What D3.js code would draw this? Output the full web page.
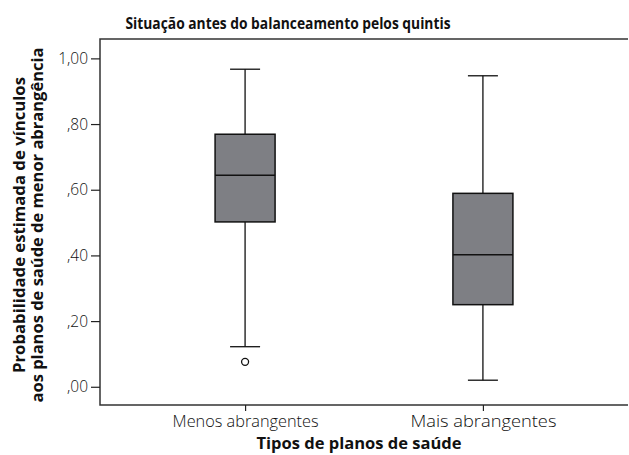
<!DOCTYPE html>
<html>
<head>
<meta charset="utf-8">
<script src="https://cdn.jsdelivr.net/npm/d3@7"></script>
<style>
  body { margin: 0; background: #fff; }
  svg text { font-family: "Open Sans", "Noto Sans", sans-serif; fill: #111; }
  .title, .axis-title { font-weight: 700; }
</style>
</head>
<body>
<svg id="chart" width="629" height="455"></svg>
<script>
// categories and five-number summaries
var categories = ['Menos abrangentes', 'Mais abrangentes'];
var whiskerLow  = [0.122, 0.020];
var q1          = [0.502, 0.250];
var median      = [0.644, 0.402];
var q3          = [0.769, 0.589];
var whiskerHigh = [0.967, 0.947];
var outliers    = [[0.076], []];
var yTicks = [0, 0.2, 0.4, 0.6, 0.8, 1.0];

var svg = d3.select('#chart');
var plot = { left: 100, right: 628, top: 39, bottom: 405 };

var x = d3.scalePoint()
  .domain(categories)
  .range([plot.left, plot.right])
  .padding(0.61);

var y = d3.scaleLinear()
  .domain([-0.0555, 1.059])
  .range([plot.bottom, plot.top]);

var fmt = function(d) {
  // SPSS style: ",80" / "1,00"
  var s = d3.format('.2f')(d).replace('.', ',');
  return s.charAt(0) === '0' ? s.slice(1) : s;
};

var boxW = 60, capW = 30;

var boxes = svg.append('g').attr('class', 'boxes');
categories.forEach(function(c, i) {
  var cx = x(c);
  var g = boxes.append('g');
  // whisker stems
  g.append('line')
    .attr('x1', cx).attr('x2', cx)
    .attr('y1', y(whiskerHigh[i])).attr('y2', y(q3[i]))
    .attr('stroke', '#111').attr('stroke-width', 1.3);
  g.append('line')
    .attr('x1', cx).attr('x2', cx)
    .attr('y1', y(q1[i])).attr('y2', y(whiskerLow[i]))
    .attr('stroke', '#111').attr('stroke-width', 1.3);
  // caps
  [whiskerHigh[i], whiskerLow[i]].forEach(function(v) {
    g.append('line')
      .attr('x1', cx - capW / 2).attr('x2', cx + capW / 2)
      .attr('y1', y(v)).attr('y2', y(v))
      .attr('stroke', '#111').attr('stroke-width', 1.3);
  });
  // box
  g.append('rect')
    .attr('x', cx - boxW / 2)
    .attr('y', y(q3[i]))
    .attr('width', boxW)
    .attr('height', y(q1[i]) - y(q3[i]))
    .attr('fill', '#7e7f84')
    .attr('stroke', '#111')
    .attr('stroke-width', 1.5);
  g.append('line')
    .attr('x1', cx - boxW / 2).attr('x2', cx + boxW / 2)
    .attr('y1', y(median[i])).attr('y2', y(median[i]))
    .attr('stroke', '#111').attr('stroke-width', 1.5);
  // outliers
  g.selectAll('circle').data(outliers[i]).enter().append('circle')
    .attr('cx', cx).attr('cy', function(d) { return y(d); })
    .attr('r', 3.5)
    .attr('fill', '#fff').attr('stroke', '#111').attr('stroke-width', 1.3);
});

// frame: top, left, bottom (no right side visible)
svg.append('path')
  .attr('stroke', '#333').attr('stroke-width', 1.5).attr('fill', 'none')
  .attr('d', 'M' + plot.right + ',' + plot.top + 'H' + plot.left +
             'V' + plot.bottom + 'H' + plot.right);

// y axis
var yAxis = svg.append('g')
  .attr('transform', 'translate(' + plot.left + ',0)')
  .call(d3.axisLeft(y).tickValues(yTicks).tickFormat(fmt).tickSize(9).tickPadding(3));
yAxis.select('.domain').remove();
yAxis.selectAll('line').attr('stroke', '#222').attr('stroke-width', 1.2);
yAxis.selectAll('text')
  .attr('font-size', 15.5).attr('fill', '#222')
  .style('font-family', '"Open Sans", "Noto Sans", sans-serif')
  .style('font-weight', 300);

// x axis
var xAxis = svg.append('g')
  .attr('transform', 'translate(0,' + plot.bottom + ')')
  .call(d3.axisBottom(x).tickSize(6));
xAxis.select('.domain').remove();
xAxis.selectAll('line').attr('stroke', '#222').attr('stroke-width', 1.2);
xAxis.selectAll('text')
  .attr('y', 21.5).attr('dy', 0)
  .attr('font-size', 16).attr('fill', '#222')
  .style('font-family', '"Open Sans", "Noto Sans", sans-serif')
  .style('font-weight', 300)
  .attr('textLength', 146).attr('lengthAdjust', 'spacingAndGlyphs');

// titles
svg.append('text').attr('class', 'title')
  .attr('x', 288).attr('y', 28.5)
  .attr('text-anchor', 'middle').attr('font-size', 16)
  .attr('textLength', 325).attr('lengthAdjust', 'spacingAndGlyphs')
  .text('Situação antes do balanceamento pelos quintis');

svg.append('text').attr('class', 'axis-title')
  .attr('x', 359).attr('y', 449)
  .attr('text-anchor', 'middle').attr('font-size', 16)
  .attr('textLength', 205).attr('lengthAdjust', 'spacingAndGlyphs')
  .text('Tipos de planos de saúde');

var yTitle = svg.append('text').attr('class', 'axis-title')
  .attr('transform', 'translate(0,225) rotate(-90)')
  .attr('text-anchor', 'middle').attr('font-size', 16);
yTitle.append('tspan').attr('x', 0).attr('y', 25)
  .attr('textLength', 296).attr('lengthAdjust', 'spacingAndGlyphs')
  .text('Probabilidade estimada de vínculos');
yTitle.append('tspan').attr('x', 0).attr('y', 43)
  .attr('textLength', 355).attr('lengthAdjust', 'spacingAndGlyphs')
  .text('aos planos de saúde de menor abrangência');
</script>
</body>
</html>
